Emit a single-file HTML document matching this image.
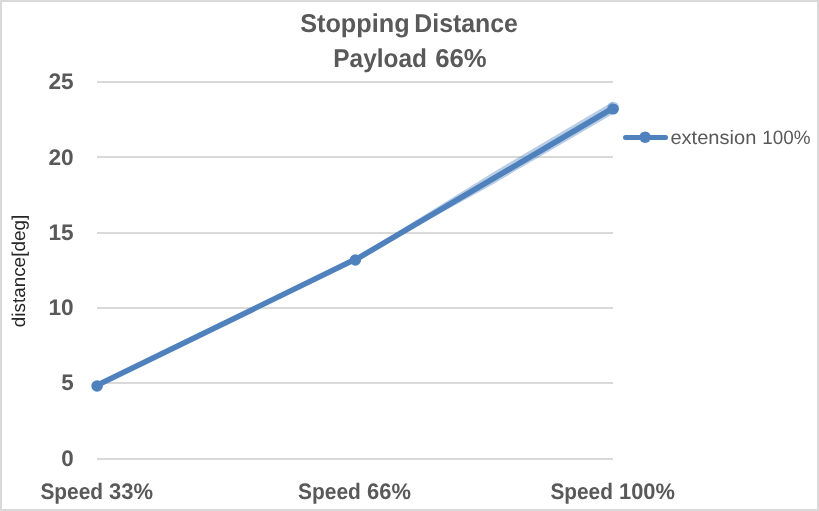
<!DOCTYPE html>
<html>
<head>
<meta charset="utf-8">
<style>
html,body{margin:0;padding:0;background:#fff;}
body{width:819px;height:511px;overflow:hidden;position:relative;}
svg{display:block;position:absolute;left:0;top:0;will-change:transform;}
text{font-family:"Liberation Sans",sans-serif;}
.b{font-weight:bold;fill:#595959;}
</style>
</head>
<body>
<svg width="819" height="511" viewBox="0 0 819 511" text-rendering="geometricPrecision">
  <rect x="0" y="0" width="819" height="511" fill="#fff"/>
  <rect x="1" y="1" width="817" height="509" fill="none" stroke="#d9d9d9" stroke-width="2"/>

  <!-- gridlines -->
  <g fill="#d9d9d9">
    <rect x="97" y="81" width="516" height="2"/>
    <rect x="97" y="156" width="516" height="2"/>
    <rect x="97" y="232" width="516" height="2"/>
    <rect x="97" y="307" width="516" height="2"/>
    <rect x="97" y="382" width="516" height="2"/>
    <rect x="97" y="458" width="516" height="2"/>
  </g>

  <!-- title -->
  <g class="b" font-size="25.8">
    <text x="300.17" y="31.5" textLength="109.42" lengthAdjust="spacingAndGlyphs">Stopping</text>
    <text x="414.34" y="31.5" textLength="103.61" lengthAdjust="spacingAndGlyphs">Distance</text>
    <text x="333.27" y="66.5" textLength="93.64" lengthAdjust="spacingAndGlyphs">Payload</text>
    <text x="435.16" y="66.5" textLength="51.42" lengthAdjust="spacingAndGlyphs">66%</text>
  </g>

  <!-- y axis labels -->
  <g class="b" font-size="22.4" text-anchor="end">
    <text x="73.6" y="88.9" textLength="25.2" lengthAdjust="spacingAndGlyphs">25</text>
    <text x="73.6" y="164.5" textLength="25.2" lengthAdjust="spacingAndGlyphs">20</text>
    <text x="73.6" y="239.9" textLength="25.2" lengthAdjust="spacingAndGlyphs">15</text>
    <text x="73.6" y="314.9" textLength="25.2" lengthAdjust="spacingAndGlyphs">10</text>
    <text x="73.6" y="390.4">5</text>
    <text x="73.6" y="465.9">0</text>
  </g>

  <!-- y axis title -->
  <text x="-56" y="0" font-size="18.6" fill="#262626" textLength="112.5" lengthAdjust="spacingAndGlyphs" transform="translate(24.6,271.3) rotate(-90)">distance[deg]</text>

  <!-- x axis labels -->
  <g class="b" font-size="22.4" lengthAdjust="spacingAndGlyphs">
    <text x="40.4" y="498.7" textLength="62.67" lengthAdjust="spacingAndGlyphs">Speed</text>
    <text x="109.1" y="498.7" textLength="43.98" lengthAdjust="spacingAndGlyphs">33%</text>
    <text x="298.1" y="498.7" textLength="62.8" lengthAdjust="spacingAndGlyphs">Speed</text>
    <text x="367.0" y="498.7" textLength="43.88" lengthAdjust="spacingAndGlyphs">66%</text>
    <text x="550.4" y="498.7" textLength="62.57" lengthAdjust="spacingAndGlyphs">Speed</text>
    <text x="619.0" y="498.7" textLength="55.96" lengthAdjust="spacingAndGlyphs">100%</text>
  </g>

  <!-- light band -->
  <polygon points="395.0,233.2 420.0,217.8 445.0,202.3 470.0,186.7 490.0,174.2 550.0,138.7 613.0,101.4 613.0,113.9 550.0,150.8 490.0,185.9 470.0,196.9 445.0,210.7 420.0,224.5 395.0,238.8" fill="#4f81bd" fill-opacity="0.4"/>
  <circle cx="613.2" cy="107.8" r="6.1" fill="#4f81bd" fill-opacity="0.4"/>

  <!-- series line -->
  <g fill="none" stroke="#4f81bd" stroke-width="5.6" stroke-linecap="round">
    <line x1="97.1" y1="385.3" x2="355.35" y2="259.3"/>
    <line x1="355.35" y1="259.8" x2="613.2" y2="108.0"/>
  </g>
  <g fill="#4f81bd">
    <circle cx="97.1" cy="386" r="5.8"/>
    <circle cx="355.35" cy="260" r="5.7"/>
    <circle cx="613.2" cy="109.0" r="5.6"/>
  </g>

  <!-- legend -->
  <line x1="625.5" y1="137.4" x2="665.5" y2="137.4" stroke="#4f81bd" stroke-width="5" stroke-linecap="round"/>
  <circle cx="645.1" cy="137.2" r="5.8" fill="#4f81bd"/>
  <g font-size="19.4" fill="#595959">
    <text x="670.45" y="143.7" textLength="85.85" lengthAdjust="spacingAndGlyphs">extension</text>
    <text x="762.36" y="143.7" textLength="48.31" lengthAdjust="spacingAndGlyphs">100%</text>
  </g>
</svg>
</body>
</html>
